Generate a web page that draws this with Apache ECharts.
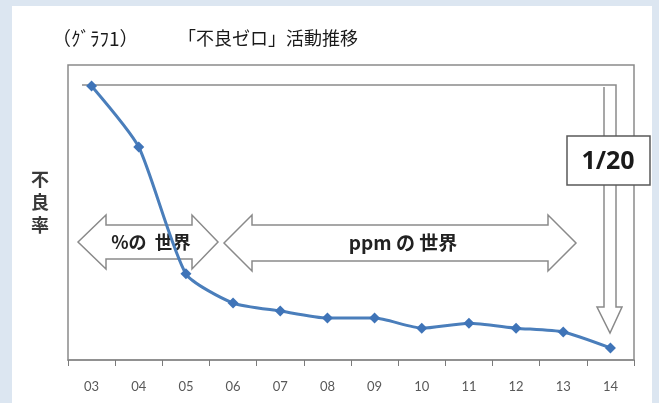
<!DOCTYPE html>
<html>
<head>
<meta charset="utf-8">
<script src="https://cdn.jsdelivr.net/npm/echarts@6/dist/echarts.min.js"></script>
<style>
  html, body { margin: 0; padding: 0; background: #dce6f1; }
  #main { width: 659px; height: 403px; }
</style>
</head>
<body>
<div id="main"></div>
<script>
// 年度（横軸）
var years = ['03', '04', '05', '06', '07', '08', '09', '10', '11', '12', '13', '14'];
// 不良率（相対値、目盛なし）
var defectRate = [92.9, 72.2, 29.2, 19.3, 16.6, 14.2, 14.2, 10.8, 12.5, 10.8, 9.5, 4.1];

var jp = '"Noto Sans CJK JP", sans-serif';
var gray = '#8a8a8a';

// 両矢印（ブロック矢印）の点列
function doubleArrow(xl, bl, br, xr, yc, head, shaft) {
  return [
    [xl, yc], [bl, yc - head], [bl, yc - shaft], [br, yc - shaft], [br, yc - head],
    [xr, yc], [br, yc + head], [br, yc + shaft], [bl, yc + shaft], [bl, yc + head]
  ];
}

var chart = echarts.init(document.getElementById('main'));
var option = {
  backgroundColor: '#dce6f1',
  animation: false,
  grid: {
    left: 68, right: 25, top: 65, bottom: 43,
    show: true, borderColor: gray, borderWidth: 1.5, backgroundColor: 'transparent'
  },
  xAxis: {
    type: 'category',
    data: years,
    boundaryGap: true,
    axisLine: { lineStyle: { color: gray, width: 1.5 } },
    axisTick: { show: true, interval: 0, length: 6, lineStyle: { color: '#7a7a7a', width: 1 } },
    axisLabel: { color: '#595959', fontSize: 13, fontFamily: 'Lato', margin: 20 }
  },
  yAxis: {
    type: 'value',
    min: 0, max: 100,
    axisLine: { show: false },
    axisTick: { show: false },
    axisLabel: { show: false },
    splitLine: { show: false }
  },
  graphic: [
    // 白い下地
    { type: 'rect', z: -10, shape: { x: 12, y: 6, width: 640, height: 400 }, style: { fill: '#ffffff' } },
    // タイトル
    { type: 'text', left: 52, top: 29, style: { text: '（ｸﾞﾗﾌ1）', font: '19px ' + jp, fill: '#1a1a1a' } },
    { type: 'text', left: 178, top: 29, style: { text: '「不良ゼロ」活動推移', font: '18px ' + jp, fill: '#1a1a1a' } },
    // 縦軸名
    { type: 'text', x: 40, y: 202, style: { text: '不\n良\n率', font: 'bold 18px ' + jp, fill: '#3a3a3a', align: 'center', verticalAlign: 'middle', lineHeight: 23 } },
    // 「%の世界」
    { type: 'polygon', z: 1, shape: { points: doubleArrow(78, 106, 192, 218, 242, 27, 17) },
      style: { fill: '#ffffff', stroke: gray, lineWidth: 1.5 } },
    { type: 'text', z: 3, x: 151, y: 242, style: { text: '%の  世界', font: 'bold 18px ' + jp, fill: '#222', align: 'center', verticalAlign: 'middle' } },
    // 「ppmの世界」
    { type: 'polygon', z: 1, shape: { points: doubleArrow(224, 252, 548, 576, 243, 28, 18) },
      style: { fill: '#ffffff', stroke: gray, lineWidth: 1.5 } },
    { type: 'text', z: 3, x: 403, y: 243, style: { text: 'ppm の 世界', font: 'bold 19px ' + jp, fill: '#222', align: 'center', verticalAlign: 'middle' } },
    // 折れ矢印（1/20）
    { type: 'polyline', z: 1, shape: { points: [[82, 85], [616, 85], [616, 307], [622, 307], [610, 333], [597, 307], [604, 307], [604, 87]] },
      style: { fill: 'none', stroke: gray, lineWidth: 1.5 } },
    { type: 'rect', z: 4, shape: { x: 567, y: 136, width: 83, height: 49 }, style: { fill: '#ffffff', stroke: '#5a5a5a', lineWidth: 1.5 } },
    { type: 'text', z: 5, x: 608, y: 162, style: { text: '1/20', font: 'bold 25px "Open Sans", sans-serif', fill: '#1a1a1a', align: 'center', verticalAlign: 'middle' } }
  ],
  series: [{
    type: 'line',
    data: defectRate,
    smooth: 0.2,
    z: 3,
    symbol: 'diamond',
    symbolSize: 11,
    itemStyle: { color: '#3f74b8' },
    lineStyle: { color: '#4a7ebb', width: 3 }
  }]
};
chart.setOption(option);
</script>
</body>
</html>
